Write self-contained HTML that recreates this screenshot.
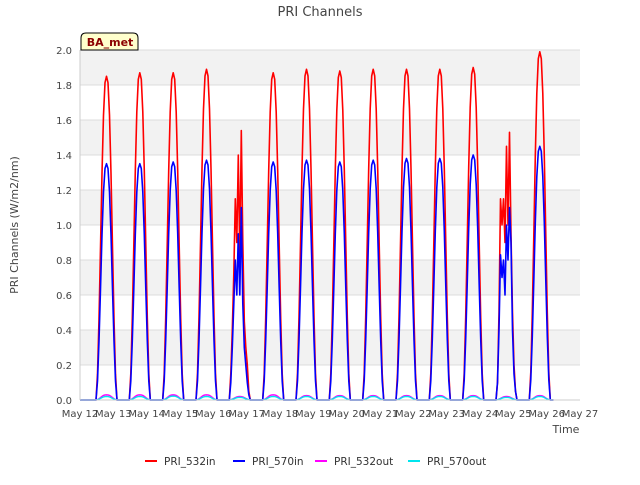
<!DOCTYPE html>
<html><head><meta charset="utf-8"><style>
body{margin:0;background:#fff;font-family:"Liberation Sans","DejaVu Sans",sans-serif}
svg text{font-family:"DejaVu Sans","Liberation Sans",sans-serif}
</style></head><body>
<svg id="c" width="640" height="480" xmlns="http://www.w3.org/2000/svg">
<rect width="640" height="480" fill="#fff"/>
<g id="grid"></g>
<g id="series"></g>
<g id="axes"></g>
<text x="320" y="16" text-anchor="middle" font-size="13" fill="#444">PRI Channels</text>
<text x="18" y="225" text-anchor="middle" font-size="11" fill="#444" transform="rotate(-90 18 225)">PRI Channels (W/m2/nm)</text>
<text x="566" y="433" text-anchor="middle" font-size="11" fill="#444">Time</text>
<g>
<path d="M81,50 L81,38 Q81,33 86,33 L133,33 Q138,33 138,38 L138,50 Z" fill="#ffffcc" stroke="#000" stroke-width="1"/>
<text x="110" y="46" text-anchor="middle" font-size="11" font-weight="bold" fill="#8b0000">BA_met</text>
</g>
<g id="legend"></g>
</svg>
<script>
const yTicks=[0,0.2,0.4,0.6,0.8,1.0,1.2,1.4,1.6,1.8,2.0];
const xTickLabels=["May 12","May 13","May 14","May 15","May 16","May 17","May 18","May 19","May 20","May 21","May 22","May 23","May 24","May 25","May 26","May 27"];
const peak532in=[1.85,1.87,1.87,1.89,1.54,1.87,1.89,1.88,1.89,1.89,1.89,1.9,1.53,1.99];
const peak570in=[1.35,1.35,1.36,1.37,1.1,1.36,1.37,1.36,1.37,1.38,1.38,1.4,1.13,1.45];
const peak532out=[0.03,0.03,0.03,0.03,0.02,0.03,0.025,0.025,0.025,0.025,0.025,0.025,0.02,0.025];
const peak570out=[0.02,0.02,0.022,0.02,0.015,0.02,0.02,0.02,0.02,0.02,0.02,0.02,0.015,0.02];
const profile=[0,0.08,0.25,0.47,0.7,0.88,0.98,1,0.98,0.88,0.7,0.47,0.25,0.08,0];
const cloudy532={4:[0,0.15,0.4,0.72,1.15,0.9,1.4,0.8,1.54,0.9,0.45,0.3,0.2,0.05,0],12:[0,0.1,0.5,1.15,1.0,1.15,0.9,1.45,1.0,1.53,0.95,0.5,0.2,0.05,0]};
const cloudy570={4:[0,0.1,0.3,0.55,0.8,0.6,0.95,0.6,1.1,0.55,0.3,0.2,0.1,0.03,0],12:[0,0.1,0.4,0.83,0.7,0.8,0.6,1.0,0.8,1.1,0.9,0.4,0.15,0.05,0]};
const NS="http://www.w3.org/2000/svg";
const L=80,R=580,T=50,B=400;
const x=t=>L+(R-L)*t/15;
const y=v=>B-(B-T)*v/2;
function mk(tag,attrs,parent){const e=document.createElementNS(NS,tag);for(const k in attrs)e.setAttribute(k,attrs[k]);parent.appendChild(e);return e;}
const grid=document.getElementById('grid'),axes=document.getElementById('axes'),ser=document.getElementById('series');
for(let i=0;i<yTicks.length-1;i++){if(i%2==1){const r=mk('rect',{x:L,y:y(yTicks[i+1]),width:R-L,height:y(yTicks[i])-y(yTicks[i+1]),fill:'#f2f2f2'},grid);}}
yTicks.forEach(v=>{const l=mk('line',{x1:L,x2:R,y1:y(v),y2:y(v),stroke:'#dcdcdc','stroke-width':1},grid);
const t=mk('text',{x:L-8,y:y(v)+4,'text-anchor':'end','font-size':10,fill:'#444'},axes);t.textContent=v.toFixed(1);});
mk('line',{x1:L,x2:L,y1:T,y2:B,stroke:'#ccc'},axes);mk('line',{x1:L,x2:R,y1:B,y2:B,stroke:'#ccc'},axes);
xTickLabels.forEach((s,i)=>{const t=mk('text',{x:x(i),y:B+17,'text-anchor':'middle','font-size':10,fill:'#444'},axes);t.textContent=s;});
function series(peaks,cloudy,color,w,name){let d='M'+x(0)+','+y(0);
peaks.forEach((p,di)=>{const vals=cloudy&&cloudy[di]?cloudy[di]:profile.map(f=>f*p);
vals.forEach((v,j)=>{const t=di+0.48+0.63*j/(vals.length-1);d+=' L'+x(t).toFixed(1)+','+y(v).toFixed(1);});});
d+=' L'+x(14.2)+','+y(0);
const p=mk('path',{d:d,fill:'none',stroke:color,'stroke-width':w,'stroke-linejoin':'round'},ser);}
series(peak532in,cloudy532,'#ff0000',1.6,'series-pri-532in');
series(peak570in,cloudy570,'#0000ff',1.6,'series-pri-570in');
series(peak532out,null,'#ff00ff',1.4,'series-pri-532out');
series(peak570out,null,'#00e5ee',1.4,'series-pri-570out');
const leg=document.getElementById('legend');
[["PRI_532in","#ff0000",145],["PRI_570in","#0000ff",233],["PRI_532out","#ff00ff",315],["PRI_570out","#00e5ee",408]].forEach(([n,c,lx])=>{
const l=mk('line',{x1:lx,x2:lx+12,y1:461,y2:461,stroke:c,'stroke-width':2},leg);
const t=mk('text',{x:lx+19,y:465,'font-size':10.5,fill:'#333'},leg);t.textContent=n;});
</script>
</body></html>
